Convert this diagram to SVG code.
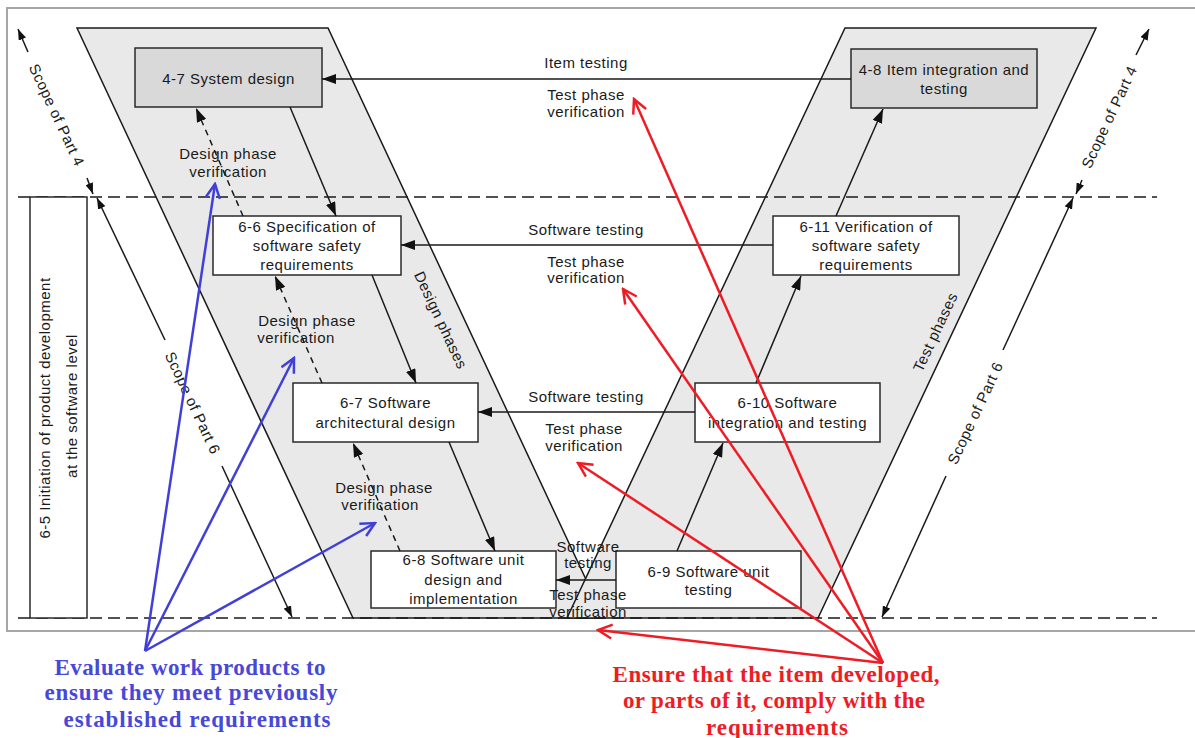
<svg xmlns="http://www.w3.org/2000/svg" width="1195" height="738" viewBox="0 0 1195 738">
<defs>
<style>
.t{font-family:"Liberation Sans",Arial,sans-serif;font-size:15px;letter-spacing:0.5px;fill:#1a1a1a;text-anchor:middle}
.c{dominant-baseline:central}
.box{stroke:#2a2a2a;stroke-width:1.5}
.w{fill:#ffffff}
.g{fill:#d9d9d9}
.ln{stroke:#1a1a1a;stroke-width:1.5;fill:none}
.dash{stroke:#1a1a1a;stroke-width:1.5;fill:none;stroke-dasharray:12 6}
.vd{stroke:#1a1a1a;stroke-width:1.5;fill:none;stroke-dasharray:6 5}
.par{fill:#e9e9e9;stroke:#1a1a1a;stroke-width:1.5}
.red{stroke:#ee1c25;stroke-width:2.5;fill:none}
.blue{stroke:#4040d8;stroke-width:2.5;fill:none}
.rt{font-family:"Liberation Serif","Times New Roman",serif;font-weight:bold;font-size:23px;fill:#ee1c25;text-anchor:middle}
.bt{font-family:"Liberation Serif","Times New Roman",serif;font-weight:bold;font-size:23px;fill:#4848d8;text-anchor:middle}
</style>
<marker id="fa" viewBox="0 0 14 10" refX="14" refY="5" markerWidth="14" markerHeight="10" markerUnits="userSpaceOnUse" orient="auto"><path d="M0,0 L14,5 L0,10 z" fill="#111"/></marker>
<marker id="fs" viewBox="0 0 11 8" refX="11" refY="4" markerWidth="11" markerHeight="8" markerUnits="userSpaceOnUse" orient="auto"><path d="M0,0 L11,4 L0,8 z" fill="#111"/></marker>
<marker id="or" viewBox="-1 -1 17 17" refX="14" refY="7" markerWidth="17" markerHeight="17" markerUnits="userSpaceOnUse" orient="auto"><path d="M0,0 L14,7 L0,14" fill="none" stroke="#ee1c25" stroke-width="2.5"/></marker>
<marker id="ob" viewBox="-1 -1 17 17" refX="14" refY="7" markerWidth="17" markerHeight="17" markerUnits="userSpaceOnUse" orient="auto"><path d="M0,0 L14,7 L0,14" fill="none" stroke="#4040d8" stroke-width="2.5"/></marker>
</defs>
<rect x="0" y="0" width="1195" height="738" fill="#ffffff"/>
<rect x="7" y="8" width="1200" height="623" fill="none" stroke="#a6a6a6" stroke-width="2"/>

<g id="phases">
<polygon class="par" points="77,28 328,28 604,618 353,618"/>
<polygon class="par" points="845,28 1096,28 818,618 567,618"/>
<text class="t c" transform="translate(441,320) rotate(65)">Design phases</text>
<text class="t c" transform="translate(935,332) rotate(-65)">Test phases</text>
</g>

<g id="levels">
<line class="dash" x1="18" y1="197" x2="1157" y2="197"/>
<line class="dash" x1="18" y1="618" x2="1157" y2="618"/>
</g>

<g id="n65">
<rect class="box w" x="30" y="197" width="57" height="421"/>
<text class="t c" transform="translate(44,408) rotate(-90)">6-5 Initiation of product development</text>
<text class="t c" transform="translate(71,406) rotate(-90)">at the software level</text>
</g>

<g id="scopes">
<line class="ln" x1="28" y1="52" x2="18" y2="29" marker-end="url(#fs)"/>
<line class="ln" x1="87" y1="178" x2="93" y2="194" marker-end="url(#fs)"/>
<text class="t c" transform="translate(57,115) rotate(65)">Scope of Part 4</text>
<line class="ln" x1="165" y1="340" x2="97" y2="198" marker-end="url(#fs)"/>
<line class="ln" x1="222" y1="466" x2="292" y2="617" marker-end="url(#fs)"/>
<text class="t c" transform="translate(193,403) rotate(65)">Scope of Part 6</text>
<line class="ln" x1="1136" y1="55" x2="1149" y2="29" marker-end="url(#fs)"/>
<line class="ln" x1="1082" y1="180" x2="1076" y2="194" marker-end="url(#fs)"/>
<text class="t c" transform="translate(1109,117) rotate(-65)">Scope of Part 4</text>
<line class="ln" x1="1003" y1="350" x2="1073" y2="198" marker-end="url(#fs)"/>
<line class="ln" x1="946" y1="476" x2="882" y2="617" marker-end="url(#fs)"/>
<text class="t c" transform="translate(975,413) rotate(-65)">Scope of Part 6</text>
</g>

<g id="n47"><rect class="box g" x="135" y="48" width="187" height="59"/><text class="t" x="228.5" y="84">4-7 System design</text></g>
<g id="n48"><rect class="box g" x="851" y="49" width="186" height="59"/><text class="t" x="944" y="75">4-8 Item integration and</text><text class="t" x="944" y="94">testing</text></g>
<g id="n66"><rect class="box w" x="213" y="216" width="188" height="59"/><text class="t" x="307" y="232">6-6 Specification of</text><text class="t" x="307" y="251">software safety</text><text class="t" x="307" y="270">requirements</text></g>
<g id="n611"><rect class="box w" x="773" y="216" width="186" height="59"/><text class="t" x="866" y="232">6-11 Verification of</text><text class="t" x="866" y="251">software safety</text><text class="t" x="866" y="270">requirements</text></g>
<g id="n67"><rect class="box w" x="293" y="383" width="185" height="59"/><text class="t" x="385.5" y="408">6-7 Software</text><text class="t" x="385.5" y="428">architectural design</text></g>
<g id="n610"><rect class="box w" x="695" y="383" width="185" height="59"/><text class="t" x="787.5" y="408">6-10 Software</text><text class="t" x="787.5" y="428">integration and testing</text></g>
<g id="n68"><rect class="box w" x="371" y="551" width="185" height="57"/><text class="t" x="463.5" y="565">6-8 Software unit</text><text class="t" x="463.5" y="585">design and</text><text class="t" x="463.5" y="604">implementation</text></g>
<g id="n69"><rect class="box w" x="616" y="551" width="185" height="57"/><text class="t" x="708.5" y="577">6-9 Software unit</text><text class="t" x="708.5" y="595">testing</text></g>

<g id="connectors">
<line class="ln" x1="851" y1="79" x2="322" y2="79" marker-end="url(#fa)"/>
<line class="ln" x1="773" y1="245" x2="401" y2="245" marker-end="url(#fa)"/>
<line class="ln" x1="695" y1="412" x2="478" y2="412" marker-end="url(#fa)"/>
<line class="ln" x1="616" y1="580" x2="556" y2="580" marker-end="url(#fa)"/>
<line class="ln" x1="290" y1="107" x2="336" y2="216" marker-end="url(#fa)"/>
<line class="ln" x1="372" y1="275" x2="416" y2="383" marker-end="url(#fa)"/>
<line class="ln" x1="449" y1="442" x2="495" y2="551" marker-end="url(#fa)"/>
<line class="vd" x1="243" y1="216" x2="196" y2="108" marker-end="url(#fa)"/>
<line class="vd" x1="322" y1="383" x2="275" y2="276" marker-end="url(#fa)"/>
<line class="vd" x1="400" y1="551" x2="353" y2="443" marker-end="url(#fa)"/>
<line class="ln" x1="677" y1="551" x2="723" y2="443" marker-end="url(#fa)"/>
<line class="ln" x1="756" y1="383" x2="801" y2="276" marker-end="url(#fa)"/>
<line class="ln" x1="836" y1="216" x2="883" y2="109" marker-end="url(#fa)"/>
</g>

<g id="labels">
<text class="t" x="586" y="68">Item testing</text>
<text class="t" x="586" y="100">Test phase</text>
<text class="t" x="586" y="117">verification</text>
<text class="t" x="586" y="235">Software testing</text>
<text class="t" x="586" y="267">Test phase</text>
<text class="t" x="586" y="283">verification</text>
<text class="t" x="586" y="402">Software testing</text>
<text class="t" x="584" y="434">Test phase</text>
<text class="t" x="584" y="451">verification</text>
<text class="t" x="588" y="552">Software</text>
<text class="t" x="588" y="568">testing</text>
<text class="t" x="588" y="600">Test phase</text>
<text class="t" x="588" y="617">verification</text>
<text class="t" x="228" y="159">Design phase</text>
<text class="t" x="228" y="177">verification</text>
<text class="t" x="307" y="326">Design phase</text>
<text class="t" x="296" y="343">verification</text>
<text class="t" x="384" y="493">Design phase</text>
<text class="t" x="380" y="510">verification</text>
</g>

<g id="annotations">
<line class="red" x1="883" y1="663" x2="634" y2="99" marker-end="url(#or)"/>
<line class="red" x1="883" y1="663" x2="623" y2="289" marker-end="url(#or)"/>
<line class="red" x1="883" y1="663" x2="578" y2="463" marker-end="url(#or)"/>
<line class="red" x1="883" y1="663" x2="598" y2="630" marker-end="url(#or)"/>
<line class="blue" x1="145" y1="651" x2="215" y2="184" marker-end="url(#ob)"/>
<line class="blue" x1="145" y1="651" x2="294" y2="358" marker-end="url(#ob)"/>
<line class="blue" x1="145" y1="651" x2="375" y2="523" marker-end="url(#ob)"/>
<text class="bt" x="190" y="675" textLength="271">Evaluate work products to</text>
<text class="bt" x="191" y="700" textLength="293">ensure they meet previously</text>
<text class="bt" x="197" y="727" textLength="267">established requirements</text>
<text class="rt" x="776" y="682" textLength="327">Ensure that the item developed,</text>
<text class="rt" x="774" y="708" textLength="302">or parts of it, comply with the</text>
<text class="rt" x="777" y="735" textLength="142">requirements</text>
</g>
</svg>
